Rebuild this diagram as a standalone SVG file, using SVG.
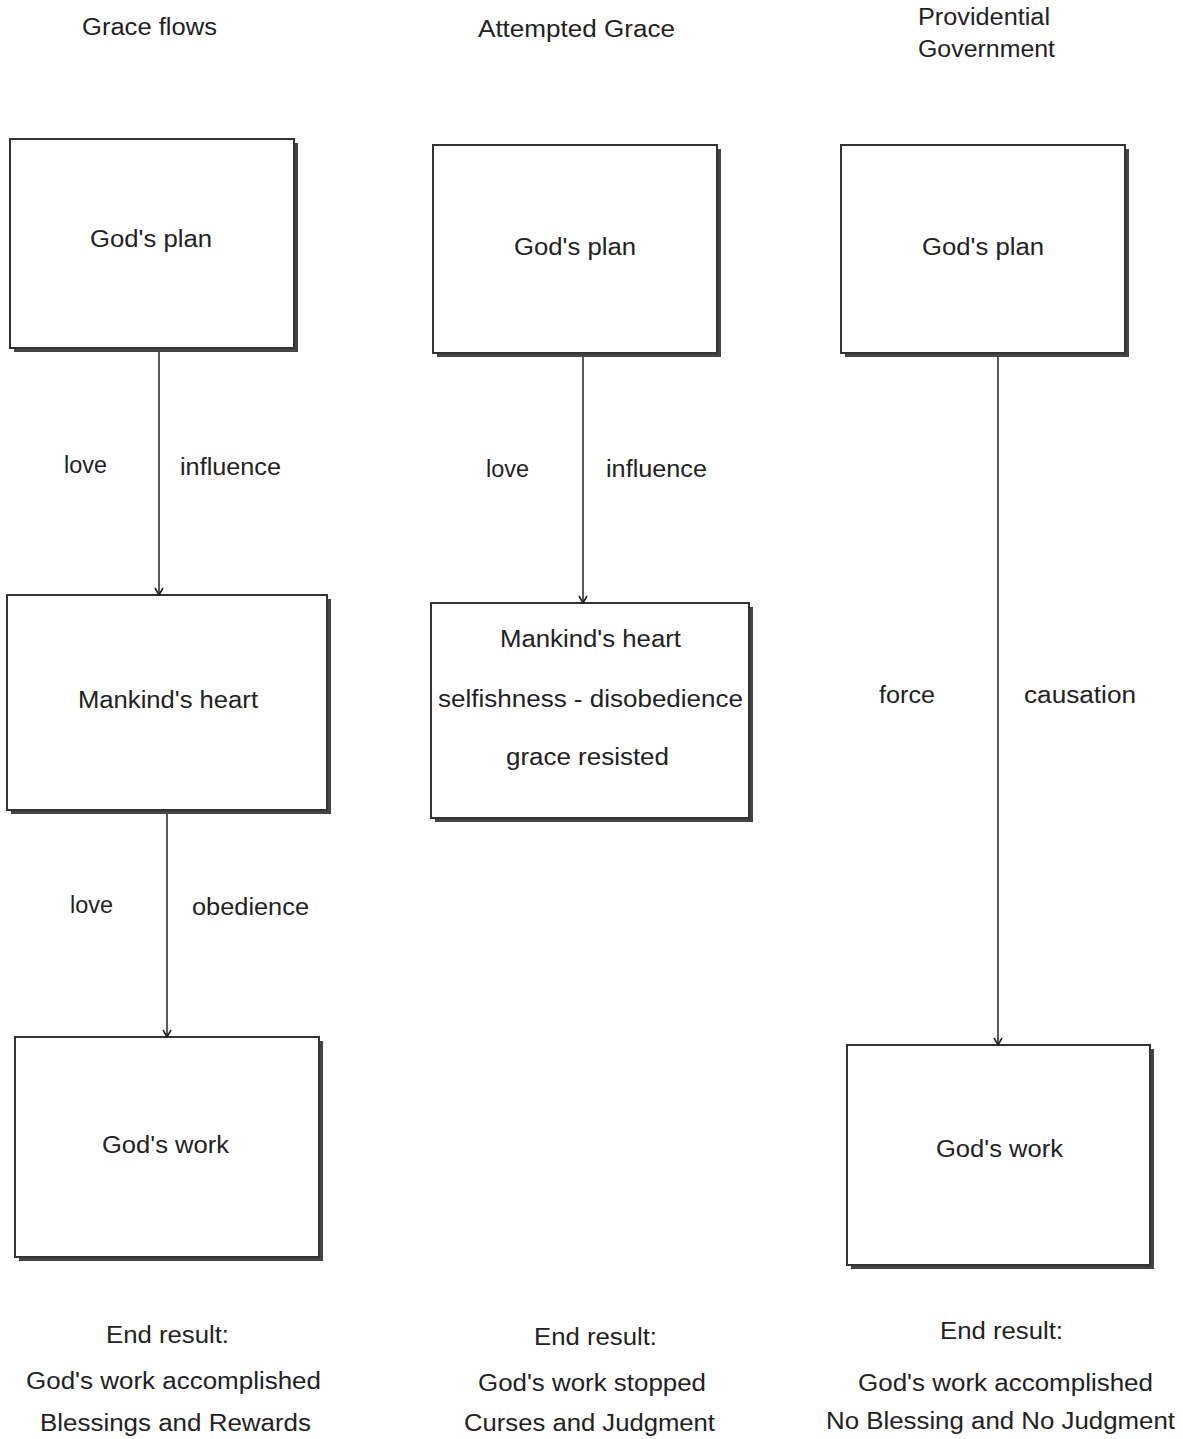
<svg xmlns="http://www.w3.org/2000/svg" width="1183" height="1439" viewBox="0 0 1183 1439">
<style>
text{font-family:"Liberation Sans",Arial,sans-serif;font-size:23px;fill:#222}
.box{fill:#fff;stroke:#333;stroke-width:2}
.sh{fill:#444}
.c{stroke:#222;stroke-width:1.5;fill:none}
</style>
<defs>
<marker id="ah" markerWidth="12" markerHeight="12" refX="11" refY="6" orient="auto" markerUnits="userSpaceOnUse" viewBox="0 0 12 12">
<path d="M4,2 L11,6 L4,10" fill="none" stroke="#222" stroke-width="1.6"/>
</marker>
</defs>
<rect width="1183" height="1439" fill="#fff"/>
<g id="headers">
<text x="82" y="35" textLength="135" lengthAdjust="spacingAndGlyphs">Grace flows</text>
<text x="478" y="37" textLength="197" lengthAdjust="spacingAndGlyphs">Attempted Grace</text>
<text x="918" y="25" textLength="132" lengthAdjust="spacingAndGlyphs">Providential</text>
<text x="918" y="57" textLength="137" lengthAdjust="spacingAndGlyphs">Government</text>
</g>
<g id="labels">
<text x="64" y="473" textLength="43" lengthAdjust="spacingAndGlyphs">love</text>
<text x="180" y="475" textLength="101" lengthAdjust="spacingAndGlyphs">influence</text>
<text x="70" y="913" textLength="43" lengthAdjust="spacingAndGlyphs">love</text>
<text x="192" y="915" textLength="117" lengthAdjust="spacingAndGlyphs">obedience</text>
<text x="486" y="477" textLength="43" lengthAdjust="spacingAndGlyphs">love</text>
<text x="606" y="477" textLength="101" lengthAdjust="spacingAndGlyphs">influence</text>
<text x="879" y="703" textLength="56" lengthAdjust="spacingAndGlyphs">force</text>
<text x="1024" y="703" textLength="112" lengthAdjust="spacingAndGlyphs">causation</text>
</g>
<g id="plan1">
<rect class="sh" x="14" y="143" width="284" height="209"/>
<rect class="box" x="10" y="139" width="284" height="209"/>
<text x="90" y="247" textLength="122" lengthAdjust="spacingAndGlyphs">God's plan</text>
</g>
<g id="heart1">
<rect class="sh" x="11" y="599" width="320" height="215"/>
<rect class="box" x="7" y="595" width="320" height="215"/>
<text x="78" y="708" textLength="180" lengthAdjust="spacingAndGlyphs">Mankind's heart</text>
</g>
<g id="work1">
<rect class="sh" x="19" y="1041" width="304" height="220"/>
<rect class="box" x="15" y="1037" width="304" height="220"/>
<text x="102" y="1153" textLength="127" lengthAdjust="spacingAndGlyphs">God's work</text>
</g>
<g id="plan2">
<rect class="sh" x="437" y="149" width="284" height="208"/>
<rect class="box" x="433" y="145" width="284" height="208"/>
<text x="514" y="255" textLength="122" lengthAdjust="spacingAndGlyphs">God's plan</text>
</g>
<g id="heart2">
<rect class="sh" x="435" y="607" width="318" height="215"/>
<rect class="box" x="431" y="603" width="318" height="215"/>
<text x="500" y="647" textLength="181" lengthAdjust="spacingAndGlyphs">Mankind's heart</text>
<text x="438" y="707" textLength="305" lengthAdjust="spacingAndGlyphs">selfishness - disobedience</text>
<text x="506" y="765" textLength="163" lengthAdjust="spacingAndGlyphs">grace resisted</text>
</g>
<g id="plan3">
<rect class="sh" x="845" y="149" width="284" height="208"/>
<rect class="box" x="841" y="145" width="284" height="208"/>
<text x="922" y="255" textLength="122" lengthAdjust="spacingAndGlyphs">God's plan</text>
</g>
<g id="work3">
<rect class="sh" x="851" y="1049" width="303" height="220"/>
<rect class="box" x="847" y="1045" width="303" height="220"/>
<text x="936" y="1157" textLength="127" lengthAdjust="spacingAndGlyphs">God's work</text>
</g>
<g id="connectors">
<line class="c" x1="159" y1="352" x2="159" y2="595" marker-end="url(#ah)"/>
<line class="c" x1="167" y1="814" x2="167" y2="1037" marker-end="url(#ah)"/>
<line class="c" x1="583" y1="357" x2="583" y2="603" marker-end="url(#ah)"/>
<line class="c" x1="998" y1="357" x2="998" y2="1045" marker-end="url(#ah)"/>
</g>
<g id="results">
<text x="106" y="1343" textLength="123" lengthAdjust="spacingAndGlyphs">End result:</text>
<text x="26" y="1389" textLength="295" lengthAdjust="spacingAndGlyphs">God's work accomplished</text>
<text x="40" y="1431" textLength="271" lengthAdjust="spacingAndGlyphs">Blessings and Rewards</text>
<text x="534" y="1345" textLength="123" lengthAdjust="spacingAndGlyphs">End result:</text>
<text x="478" y="1391" textLength="228" lengthAdjust="spacingAndGlyphs">God's work stopped</text>
<text x="464" y="1431" textLength="251" lengthAdjust="spacingAndGlyphs">Curses and Judgment</text>
<text x="940" y="1339" textLength="123" lengthAdjust="spacingAndGlyphs">End result:</text>
<text x="858" y="1391" textLength="295" lengthAdjust="spacingAndGlyphs">God's work accomplished</text>
<text x="826" y="1429" textLength="349" lengthAdjust="spacingAndGlyphs">No Blessing and No Judgment</text>
</g>
</svg>
